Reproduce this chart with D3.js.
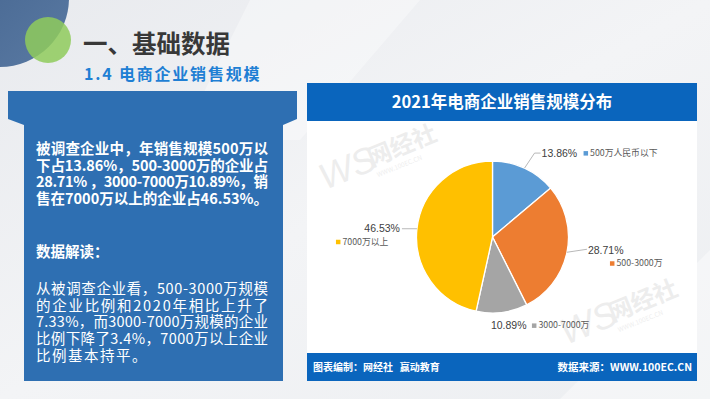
<!DOCTYPE html>
<html><head><meta charset="utf-8">
<script src="https://cdn.jsdelivr.net/npm/d3@7/dist/d3.min.js"></script>
<style>
html,body{margin:0;padding:0;background:#eef0f3;}
svg{display:block;font-family:"Noto Sans CJK SC","Liberation Sans",sans-serif;}
</style></head>
<body>
<svg id="c" width="710" height="399"></svg>
<script>
// ---- data ----
const categories = ["500万人民币以下","500-3000万","3000-7000万","7000万以上"];
const shares = [13.86, 28.71, 10.89, 46.53];
const colors = ["#5b9bd5","#ed7d31","#a5a5a5","#ffc000"];
const pageTitle = "一、基础数据";
const subTitle = "1.4 电商企业销售规模";
const chartTitle = "2021年电商企业销售规模分布";
const footerLeft = "图表编制：网经社   赢动教育";
const footerRight = "数据来源：WWW.100EC.CN";
const para1 = ["被调查企业中，年销售规模500万以","下占13.86%，500-3000万的企业占","28.71% ，3000-7000万10.89%，销","售在7000万以上的企业占46.53%。"];
const heading2 = "数据解读：";
const para2 = ["从被调查企业看，500-3000万规模","的企业比例和2020年相比上升了","7.33%，而3000-7000万规模的企业","比例下降了3.4%，7000万以上企业","比例基本持平。"];

const svg = d3.select("#c");
const defs = svg.append("defs");
const bg = defs.append("linearGradient").attr("id","bg").attr("x1","0").attr("y1","0").attr("x2","1").attr("y2","1");
bg.append("stop").attr("offset","0").attr("stop-color","#e8eaee");
bg.append("stop").attr("offset","0.5").attr("stop-color","#f3f4f6");
bg.append("stop").attr("offset","1").attr("stop-color","#eceef1");
svg.append("rect").attr("width",710).attr("height",399).attr("fill","url(#bg)");
svg.append("path").attr("d","M250,0 L420,0 L300,140 L180,140 Z").attr("fill","#ffffff").attr("opacity",0.35);
svg.append("path").attr("d","M560,399 L710,250 L710,399 Z").attr("fill","#ffffff").attr("opacity",0.4);

const cg = defs.append("linearGradient").attr("id","dc").attr("x1","0").attr("y1","0").attr("x2","1").attr("y2","1");
cg.append("stop").attr("offset","0").attr("stop-color","#3f5f8a");
cg.append("stop").attr("offset","1").attr("stop-color","#5a7aa3");
svg.append("circle").attr("cx",0).attr("cy",-2).attr("r",69).attr("fill","url(#dc)");
svg.append("circle").attr("cx",48).attr("cy",40).attr("r",23).attr("fill","#8fcb5c").attr("opacity",0.85);

svg.append("text").attr("x",83).attr("y",53).attr("font-size",24.5).attr("font-weight","bold")
  .attr("fill","#383838").text(pageTitle);
svg.append("text").attr("x",84).attr("y",80).attr("font-size",16).attr("font-weight","bold")
  .attr("fill","#1f7fd4").attr("letter-spacing",1.8).text(subTitle);

// left panel
svg.append("path").attr("d","M8,91 L297,91 L297,119 L283,125 L283,381 L24,381 L24,125 L8,119 Z")
  .attr("fill","#2e6fb2");
const lx = 36, lw = 232;
para1.forEach((t,i)=>{
  svg.append("text").attr("x",lx).attr("y",154+i*16.7).attr("font-size",14.5)
    .attr("font-weight","bold").attr("fill","#fff").text(t)
    .attr("textLength",lw).attr("lengthAdjust","spacing");
});
svg.append("text").attr("x",lx).attr("y",257).attr("font-size",14.5).attr("font-weight","bold")
  .attr("fill","#fff").text(heading2);
para2.forEach((t,i)=>{
  const el = svg.append("text").attr("x",lx).attr("y",294+i*16.7).attr("font-size",14.5)
    .attr("fill","#fff").text(t);
  if(i < para2.length-1) el.attr("textLength",lw).attr("lengthAdjust","spacing");
  else el.attr("letter-spacing",1.5);
});

// chart panel
const px0 = 307, px1 = 697;
svg.append("rect").attr("x",px0).attr("y",83).attr("width",px1-px0).attr("height",298).attr("fill","#ffffff");
svg.append("rect").attr("x",px0).attr("y",83).attr("width",px1-px0).attr("height",38).attr("fill","#0a65bd");
svg.append("text").attr("x",(px0+px1)/2).attr("y",107.5).attr("text-anchor","middle").attr("font-size",16.5)
  .attr("font-weight","bold").attr("fill","#fff").text(chartTitle);
svg.append("rect").attr("x",px0).attr("y",353).attr("width",px1-px0).attr("height",28).attr("fill","#0a65bd");
svg.append("text").attr("x",313).attr("y",370.5).attr("font-size",10).attr("font-weight","bold")
  .style("white-space","pre").attr("fill","#fff").text(footerLeft);
svg.append("text").attr("x",692).attr("y",370.5).attr("text-anchor","end").attr("font-size",10.5).attr("font-weight","bold")
  .attr("fill","#fff").text(footerRight);

// watermarks
function watermark(x,y){
  const g = svg.append("g").attr("transform",`translate(${x},${y}) rotate(-22)`).attr("opacity",0.15);
  g.append("text").attr("x",0).attr("y",0).attr("font-size",36).attr("font-style","italic")
    .attr("font-family","Liberation Sans").attr("fill","#8a8a8a").text("WS");
  g.append("text").attr("x",52).attr("y",-4).attr("font-size",24).attr("font-weight","bold").attr("fill","#8a8a8a").text("网经社");
  g.append("text").attr("x",54).attr("y",8).attr("font-size",6.5).attr("fill","#8a8a8a").text("WWW.100EC.CN");
}
watermark(325,190);
watermark(566,345);

// pie
const cx = 492.5, cy = 237, R = 76;
const pie = d3.pie().sort(null).value(d=>d.v);
const arcs = pie(categories.map((c,i)=>({c, v:shares[i], col:colors[i]})));
const arc = d3.arc().innerRadius(0).outerRadius(R);
const g = svg.append("g").attr("transform",`translate(${cx},${cy})`);
g.selectAll("path").data(arcs).enter().append("path")
  .attr("d",arc).attr("fill",d=>d.data.col).attr("stroke","#fff").attr("stroke-width",1.3);

// labels (layout offsets per slice)
const labelLayout = [
  {lead:[[10,-15],[16,-15]], tx:17, ty:-15, anchor:"start", lgx:42, lgy:0},
  {lead:[[20,-3]], tx:21, ty:-2, anchor:"start", lgx:22, lgy:13},
  {lead:null, tx:-11, ty:13, anchor:"start", lgx:41, lgy:0},
  {lead:[[-15,0]], tx:-17, ty:0, anchor:"end", lgx:-64, lgy:13}
];
const edge = d3.arc().innerRadius(R).outerRadius(R);
arcs.forEach((d,i)=>{
  const L = labelLayout[i];
  const [ex,ey] = edge.centroid(d);
  const p0x = cx+ex, p0y = cy+ey;
  if(L.lead){
    const pts = [[p0x,p0y]].concat(L.lead.map(o=>[p0x+o[0],p0y+o[1]]));
    svg.append("path").attr("d",d3.line()(pts)).attr("fill","none").attr("stroke","#a6a6a6").attr("stroke-width",0.8);
  }
  const tx = p0x+L.tx, ty = p0y+L.ty;
  svg.append("text").attr("x",tx).attr("y",ty).attr("dy","0.35em").attr("text-anchor",L.anchor)
    .attr("font-family","Liberation Sans, sans-serif").attr("font-size",10.5).attr("fill","#404040")
    .text(d3.format(".2f")(d.data.v)+"%");
  const lgX = tx + L.lgx, lgY = ty + L.lgy;
  svg.append("rect").attr("x",lgX).attr("y",lgY-2).attr("width",4.5).attr("height",4.5).attr("fill",d.data.col);
  svg.append("text").attr("x",lgX+6.5).attr("y",lgY).attr("dy","0.35em").attr("font-size",8.8)
    .attr("fill","#595959").text(d.data.c);
});
</script>
</body></html>
